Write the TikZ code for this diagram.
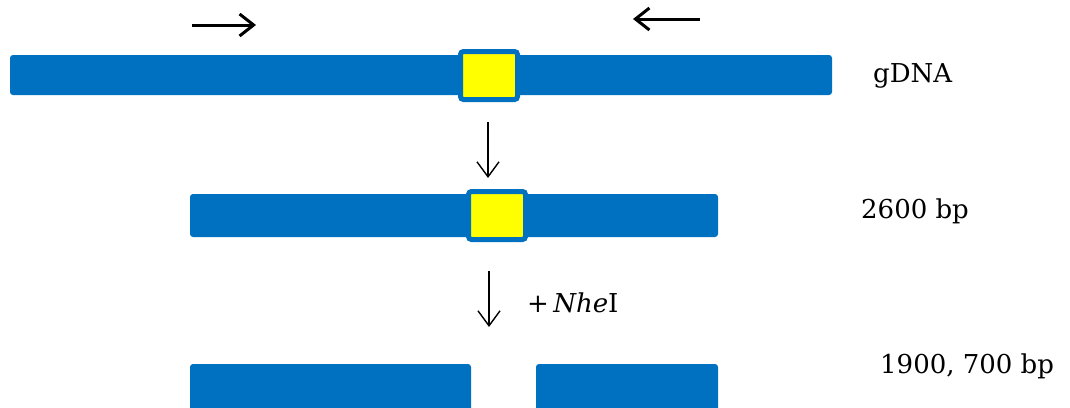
\documentclass[tikz,border=0pt]{standalone}
\usepackage{fontspec}
\setmainfont{DejaVu Serif}
\usetikzlibrary{arrows.meta}
\definecolor{dnablue}{HTML}{0070C0}
\definecolor{siteyellow}{HTML}{FFFF00}
\begin{document}
\begin{tikzpicture}[x=1pt,y=-1pt,
  bar/.style={fill=dnablue, draw=none, rounded corners=3pt, inner sep=0pt, outer sep=0pt, anchor=north west},
  site/.style={fill=siteyellow, draw=dnablue, line width=5pt, rounded corners=3pt, inner sep=0pt, minimum width=57pt, minimum height=48pt},
  primer/.style={line width=3pt, -{Straight Barb[length=14pt,width=22pt,line width=3pt]}},
  stepdown/.style={line width=1.4pt, -{Straight Barb[length=15pt,width=22pt,line width=1.4pt]}},
  lab/.style={anchor=base west, inner sep=0pt, font=\fontsize{26pt}{30pt}\selectfont}
]
\useasboundingbox (0,0) rectangle (1070,407);
% genomic DNA
\node[bar, minimum width=822pt, minimum height=40pt] (g) at (10,55) {};
\node[site] (gs) at (489,75.5) {};
% PCR product
\node[bar, minimum width=528pt, minimum height=43pt] (p) at (190,194) {};
\node[site] (ps) at (497,215.5) {};
% digested fragments
\node[bar, minimum width=281pt, minimum height=50pt] (f1) at (190,364) {};
\node[bar, minimum width=182pt, minimum height=50pt] (f2) at (536,364) {};
% primers
\coordinate (pa1) at (192,25);
\coordinate (pa2) at (256,25);
\coordinate (pb1) at (700,19);
\coordinate (pb2) at (633,19);
\draw[primer] (pa1) -- (pa2);
\draw[primer] (pb1) -- (pb2);
% process arrows
\coordinate (d1a) at (488,122);
\coordinate (d1b) at (488,178);
\coordinate (d2a) at (489,271);
\coordinate (d2b) at (489,327);
\draw[stepdown] (d1a) -- (d1b);
\draw[stepdown] (d2a) -- (d2b);
% labels
\node[lab] (lg) at (873,82) {gDNA};
\node[lab] (lp) at (861,218) {2600 bp};
\node[lab] (ln) at (527,312) {+\,\textit{Nhe}I};
\node[lab] (lf) at (880,373) {1900, 700 bp};
\end{tikzpicture}
\end{document}
